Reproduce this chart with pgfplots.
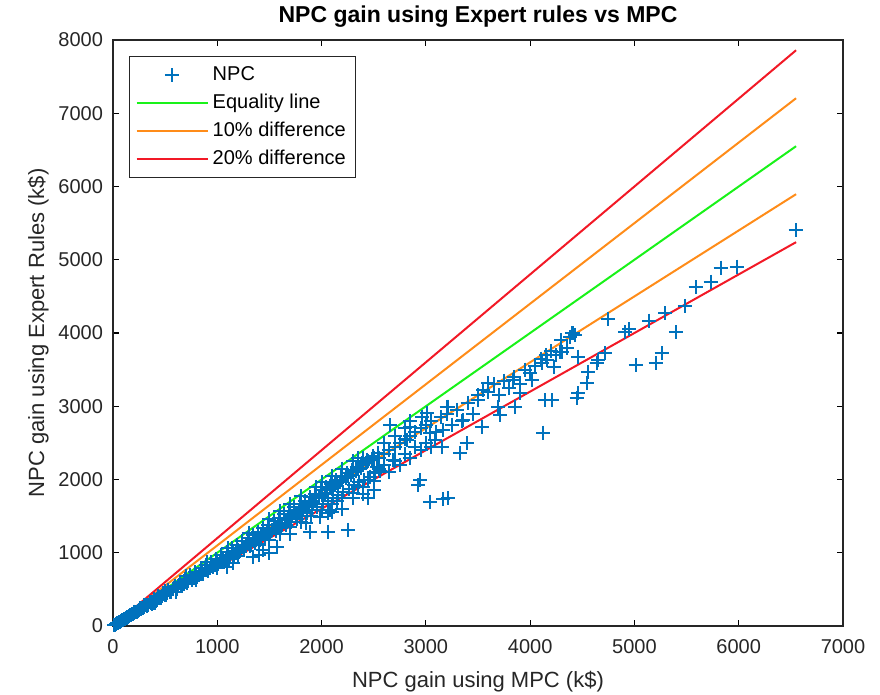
\documentclass[border=0pt]{standalone}
\usepackage{pgfplots}
\pgfplotsset{compat=1.18}
\usepackage{fontspec}
\setmainfont{Liberation Sans}
\definecolor{mblue}{rgb}{0,0.447,0.741}
\definecolor{mgreen}{rgb}{0.1,0.95,0.1}
\definecolor{morange}{rgb}{1,0.55,0.1}
\definecolor{mred}{rgb}{0.95,0.1,0.15}
\begin{document}
\begin{tikzpicture}
\begin{axis}[
  scale only axis,
  width=365pt, height=293pt,
  xmin=0, xmax=7000, ymin=0, ymax=8000,
  xtick={0,1000,...,7000}, ytick={0,1000,...,8000},
  scaled ticks=false,
  /pgf/number format/assume math mode=true,
  /pgf/number format/set thousands separator={},
  tick align=inside, major tick length=3pt,
  every tick/.style={black, line width=0.6pt},
  axis line style={line width=0.6pt, black!85},
  ticklabel style={font=\fontsize{10}{12}\selectfont, text=black!85},
  xticklabel style={yshift=-3pt},
  yticklabel style={xshift=-1.5pt},
  xlabel={NPC gain using MPC (k\$)}, ylabel={NPC gain using Expert Rules (k\$)},
  label style={font=\fontsize{11}{13}\selectfont, text=black!85},
  xlabel style={yshift=-2pt}, ylabel style={yshift=-2pt},
  title={NPC gain using Expert rules vs MPC},
  title style={font=\bfseries\fontsize{11.5}{13}\selectfont, yshift=-3pt},
  legend style={at={(rel axis cs:0,1)}, anchor=north west, xshift=8pt, yshift=-8pt,
    font=\fontsize{10}{12}\selectfont, draw=black!85, line width=0.6pt,
    row sep=1.2pt, inner xsep=3pt, inner ysep=3pt},
  legend cell align=left,
  legend image post style={line width=1pt},
  legend image code/.code={\draw[#1] (0cm,0cm) -- (1.25cm,0cm);},
]
\addplot[only marks, mark=+, mark size=3.5pt, color=mblue, mark options={line width=1pt},
  legend image code/.code={\draw[mblue, line width=0.9pt] plot[mark=+, mark size=3.5pt] coordinates {(0.62cm,0cm)};}]
coordinates {
(10,12)(20,18)(30,28)(40,35)(50,45)(60,52)(70,60)(80,75)(90,80)(100,88)(110,100)(120,105)(130,115)(150,130)(160,145)(170,148)(180,160)(200,175)(210,190)(220,185)(240,210)(250,225)(270,230)(280,250)(300,260)(320,280)(340,290)(360,315)(380,320)(400,350)(420,360)(450,380)(470,410)(500,420)(520,450)(550,460)(580,500)(600,510)(620,540)(650,550)(680,580)(700,600)(720,610)(750,650)(780,660)(800,690)(820,700)(850,720)(880,760)(900,770)(930,790)(950,820)(980,830)(1000,860)(1030,870)(1050,900)(1080,920)(1100,950)(1120,940)(1150,990)(1180,1000)(1200,1040)(1220,1030)(1250,1080)(1280,1090)(1300,1120)(1320,1110)(1350,1160)(1380,1190)(1400,1200)(1420,1230)(1450,1250)(1480,1280)(1500,1300)(1520,1310)(1550,1340)(1580,1370)(1600,1400)(1620,1390)(1650,1450)(1680,1470)(1700,1480)(1720,1500)(1750,1520)(1780,1560)(1800,1580)(1820,1600)(1850,1620)(1880,1650)(1900,1700)(1920,1680)(1950,1750)(1980,1780)(2000,1800)(2030,1820)(2050,1850)(2080,1880)(2100,1900)(2130,1920)(2150,1950)(2180,1970)(2200,2000)(2230,2020)(2250,2050)(2280,2060)(2300,2100)(2330,2120)(2350,2150)(2380,2160)(2400,2200)(2430,2220)(2450,2250)(2480,2270)(2500,2300)
(300,290)(500,480)(700,680)(900,870)(1100,1060)(1300,1270)(1500,1460)(1600,1570)(1700,1660)(1800,1770)(1950,1900)(2000,1960)(2100,2050)(2200,2150)(2300,2250)(2350,2300)(2400,2300)
(400,310)(600,470)(800,630)(1000,790)(1200,950)(1400,1100)(1500,1180)(1600,1250)(1700,1350)(1800,1420)(1900,1500)(2000,1580)(2100,1660)(2200,1750)(2300,1820)(2400,1900)(2500,1980)
(55,50)(75,63)(95,88)(115,98)(135,126)(145,120)(165,155)(190,160)(205,195)(230,195)(260,245)(290,245)(310,290)(330,275)(350,330)(370,305)(390,365)(410,340)(430,405)(460,385)(480,450)(510,420)(530,495)(560,465)(590,550)(610,505)(640,600)(660,550)(690,645)(710,590)(740,690)(760,630)(790,735)(810,670)(840,785)(860,715)(890,830)(910,755)(940,875)(960,800)(990,920)(1010,840)(1040,970)(1060,880)(1090,1015)(1110,920)(1140,1060)(1160,965)(1190,1110)(1210,1005)(1240,1155)(1260,1045)(1290,1200)(1310,1090)(1340,1245)(1360,1130)(1390,1290)(1410,1170)(1440,1340)(1460,1210)(1490,1385)(1510,1255)(1540,1430)(1560,1295)(1590,1480)(1610,1340)(1640,1525)(1660,1380)(1690,1570)(1710,1420)(1740,1620)(1760,1460)(1790,1665)(1810,1500)(1840,1710)(1860,1545)(1890,1760)(1910,1585)(1940,1805)(1960,1630)(1990,1850)(2010,1670)(2040,1900)(2060,1710)(2090,1945)(2110,1750)(2140,1990)(2160,1795)(2190,2035)(2210,1835)(2240,2085)(2260,1875)(2290,2130)(2310,1920)(2340,2175)(2360,1960)(2390,2220)(2410,2000)(2440,2270)(2460,2040)(2490,2315)(2510,2085)(2540,2360)(2560,2120)
(1090,810)(1150,860)(1345,946)(1441,1037)(1569,1083)(1500,1000)(1400,970)(1700,1250)(1889,1288)(2064,1288)(2256,1311)(1953,1629)(2064,1538)(1850,1400)(2100,1550)(2200,1600)(2150,1700)(2300,1750)(2400,1800)(2450,1750)(2500,1850)(1985,1492)(2081,1584)
(2550,2300)(2600,2350)(2600,2200)(2650,2400)(2700,2450)(2700,2250)(2750,2500)(2800,2550)(2800,2350)(2850,2600)(2900,2650)(2900,2450)(2950,2700)(3000,2750)(3000,2500)(3050,2800)(3100,2650)(3150,2850)(3200,2900)(3250,2750)(3300,2950)(3350,2800)(3400,3050)(3450,2900)(3500,3150)(2600,2500)(2700,2600)(2800,2700)(2850,2800)(3007,2904)(2550,2150)(2650,2100)(2750,2200)(2850,2300)(2950,2400)(3050,2450)(2450,2000)(2350,1900)(2500,2100)(2656,2744)
(2848,2722)(3199,2994)(2943,1993)(2927,1925)(3039,1697)(3167,1730)(3215,1743)(2688,2267)(2528,2175)(2816,2540)(2960,2858)(3039,2631)(3087,2540)(3151,2449)(3327,2358)(3391,2494)(3167,2676)(3215,2994)(3358,2812)(3406,3040)(3534,2722)(3502,3085)(3550,3222)(3598,3313)(3694,2994)(3710,2881)(3854,2994)(3902,3177)(3838,3358)(4014,3358)
(4126,2640)(4142,3085)(4206,3085)(4446,3109)(4462,3177)(4541,3313)(4558,3472)(4653,3631)(4462,3677)(4225,3541)(4110,3586)(4158,3631)(4286,3745)(4414,3996)(4749,4186)
(3600,3200)(3650,3300)(3700,3150)(3750,3350)(3800,3250)(3850,3400)(3900,3300)(3950,3500)(4000,3450)(4050,3550)(4100,3650)(4150,3700)(4200,3750)(4250,3700)(4300,3900)(4350,3800)(4400,4000)
(4430,3973)(4382,3950)(4302,3745)(4637,3586)(4717,3723)(4912,4010)(4950,4050)(5011,3563)(5203,3595)(5260,3723)(5398,4010)(5142,4168)(5296,4269)(5484,4369)(5587,4624)(5730,4700)(5826,4892)(5980,4905)(6546,5406)
};
\addlegendentry{NPC}
\addplot[mgreen, line width=1pt] coordinates {(0,0) (6550,6550)};
\addlegendentry{Equality line}
\addplot[morange, line width=1pt] coordinates {(0,0) (6550,7205)};
\addlegendentry{10\% difference}
\addplot[morange, line width=1pt, forget plot] coordinates {(0,0) (6550,5895)};
\addplot[mred, line width=1pt] coordinates {(0,0) (6550,7860)};
\addlegendentry{20\% difference}
\addplot[mred, line width=1pt, forget plot] coordinates {(0,0) (6550,5240)};
\coordinate (bbsw) at (rel axis cs:-0.1548,-0.1177);
\coordinate (bbne) at (rel axis cs:1.0507,1.0683);
\end{axis}
\pgfresetboundingbox
\path[use as bounding box] (bbsw) rectangle (bbne);
\end{tikzpicture}
\end{document}
